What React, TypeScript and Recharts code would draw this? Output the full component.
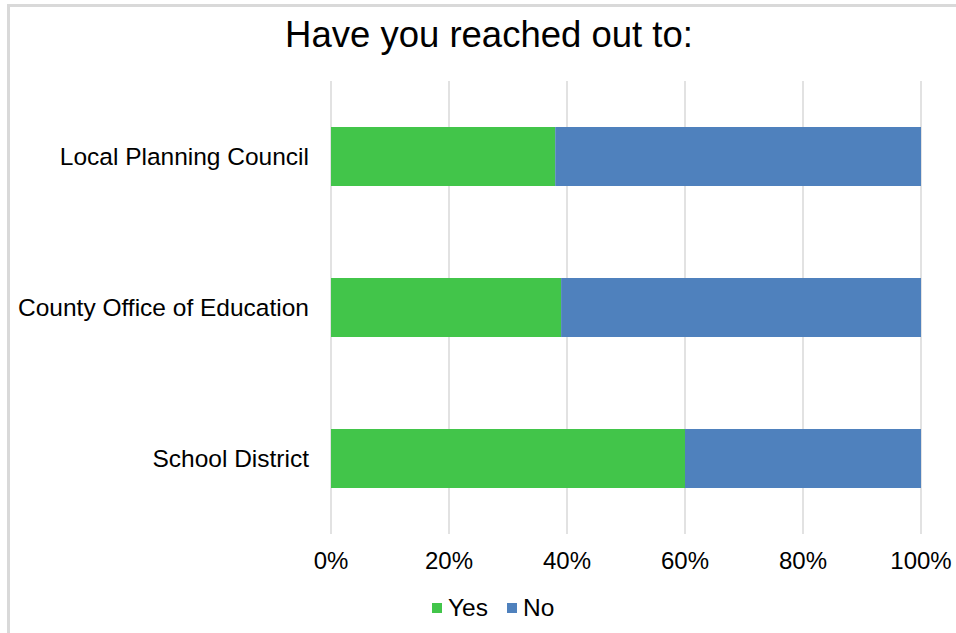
import { BarChart, Bar, XAxis, YAxis, CartesianGrid } from 'recharts'

const categories = ['Local Planning Council', 'County Office of Education', 'School District']
const yesValues = [38, 39, 60]
const noValues = [62, 61, 40]
const xTicks = [0, 20, 40, 60, 80, 100]
const seriesNames = ['Yes', 'No']
const seriesColors = ['#42c54a', '#4f81bd']

const FONT = '"Liberation Sans", Arial, sans-serif'

const data = categories.map((name, i) => ({ name, yes: yesValues[i], no: noValues[i] }))

export default function App() {
  return (
    <div style={{ position: 'absolute', left: 0, top: 0, width: 956, height: 633, background: '#fff' }}>
      <div style={{ position: 'absolute', left: 7, top: 4, right: 0, bottom: 0, borderLeft: '3px solid #d9d9d9', borderTop: '3px solid #d9d9d9' }} />
      <div style={{ position: 'absolute', left: 0, top: 17, width: 978, textAlign: 'center', fontFamily: FONT, fontSize: 36.5, lineHeight: '36px', color: '#000', whiteSpace: 'nowrap' }}>
        Have you reached out to:
      </div>
      <div style={{ position: 'absolute', left: 0, top: 0 }}>
        <BarChart width={956} height={633} data={data} layout="vertical" margin={{ top: 81, right: 35, bottom: 69, left: 0 }}>
          <CartesianGrid horizontal={false} stroke="#d9d9d9" strokeWidth={1.5} />
          <XAxis type="number" domain={[0, 100]} ticks={xTicks} tickFormatter={(v) => `${v}%`} height={30} axisLine={false} tickLine={false} tickSize={0} tickMargin={18} tick={{ fill: '#000', fontSize: 24, fontFamily: FONT }} interval={0} />
          <YAxis type="category" dataKey="name" width={331} axisLine={false} tickLine={false} tickSize={0} tickMargin={22} tick={{ fill: '#000', fontSize: 24.5, fontFamily: FONT }} />
          <Bar dataKey="yes" name="Yes" stackId="a" fill={seriesColors[0]} barSize={59} isAnimationActive={false} />
          <Bar dataKey="no" name="No" stackId="a" fill={seriesColors[1]} barSize={59} isAnimationActive={false} />
        </BarChart>
      </div>
      <div style={{ position: 'absolute', left: 432, top: 594, display: 'flex', alignItems: 'center', fontFamily: FONT, fontSize: 24.5, color: '#000', lineHeight: '28px' }}>
        {seriesNames.map((n, i) => (
          <span key={n} style={{ display: 'flex', alignItems: 'center', marginRight: 19 }}>
            <span style={{ display: 'inline-block', width: 10, height: 10, background: seriesColors[i], marginRight: 6 }} />
            {n}
          </span>
        ))}
      </div>
    </div>
  )
}
